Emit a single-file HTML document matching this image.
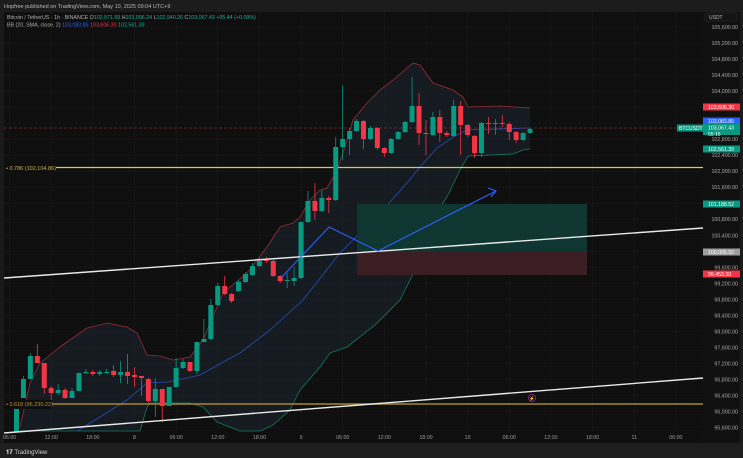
<!DOCTYPE html>
<html><head><meta charset="utf-8"><style>
html,body{margin:0;padding:0;background:#0f0f0f;width:743px;height:458px;overflow:hidden;font-family:"Liberation Sans",sans-serif}
svg{display:block}
</style></head><body>
<svg id="s" width="743" height="458" viewBox="0 0 743 458" xmlns="http://www.w3.org/2000/svg" font-family="Liberation Sans, sans-serif">
<rect width="743" height="458" fill="#0f0f0f"/>
<rect x="0" y="0" width="743" height="12" fill="#1c1c1c"/>
<rect x="0" y="12" width="4" height="431" fill="#1a1a1a"/>
<rect x="0" y="443" width="743" height="15" fill="#1e1e1e"/>
<rect x="703" y="12" width="40" height="431" fill="#111"/>
<rect x="740" y="12" width="3" height="431" fill="#1c1c1c"/>
<g id="grid"></g>
<g id="band"></g>
<!-- position box -->
<rect x="357" y="204" width="230" height="48" fill="#0f3630"/>
<rect x="357" y="252" width="230" height="23" fill="#3a1e24"/>
<!-- fib lines -->
<line x1="4" y1="167.5" x2="703" y2="167.5" stroke="#e8c24a" stroke-width="1.3"/>
<line x1="4" y1="404" x2="703" y2="404" stroke="#a8872c" stroke-width="1.6"/>
<line x1="4" y1="128" x2="703" y2="128" stroke="#8a2a2e" stroke-width="0.8" stroke-dasharray="3,2"/>
<g id="candles"></g>
<!-- trend lines -->
<line x1="4" y1="278" x2="703" y2="228" stroke="#e8e8e8" stroke-width="1.4"/>
<line x1="4" y1="433" x2="703" y2="378" stroke="#e8e8e8" stroke-width="1.4"/>
<!-- blue path -->
<polyline points="281,278 329,227 378,251 496,191" fill="none" stroke="#2962ff" stroke-width="1.1"/>
<polyline points="488,188 496,191 491,197" fill="none" stroke="#2962ff" stroke-width="1.1"/>
<rect x="4" y="163" width="52" height="9" fill="#0f0f0f"/>
<text x="6" y="170" font-size="5.5" fill="#d6b24a">• 0.786 (102,104.86)</text>
<rect x="4" y="400" width="48" height="9" fill="#0f0f0f"/>
<text x="6" y="406" font-size="5.5" fill="#b5953a">• 0.618 (96,230.22)</text>
<circle cx="532" cy="398" r="3.5" fill="none" stroke="#9c27b0" stroke-width="0.8"/>
<text x="532" y="400" font-size="4.5" fill="#9c27b0" text-anchor="middle">⚡</text>
<g id="axis"></g>
<!-- header -->
<text x="4" y="8" font-size="5.5" fill="#b8b8b8">Hopfree published on TradingView.com, May 10, 2025 09:04 UTC+9</text>
<text x="7" y="19" font-size="5.3" fill="#b0b0b0">Bitcoin / TetherUS · 1h · BINANCE  O<tspan fill="#22ab94">102,971.99</tspan> H<tspan fill="#22ab94">103,096.24</tspan> L<tspan fill="#22ab94">102,940.26</tspan> C<tspan fill="#22ab94">103,067.43</tspan> <tspan fill="#22ab94">+95.44 (+0.09%)</tspan></text>
<text x="7" y="26.5" font-size="5.3" fill="#b0b0b0">BB (20, SMA, close, 2) <tspan fill="#2962ff">103,083.85</tspan> <tspan fill="#f23645">103,606.30</tspan> <tspan fill="#22ab94">102,561.39</tspan></text>
<text x="6" y="454" font-size="6" fill="#cfcfcf" font-weight="bold">𝟏𝟕 <tspan font-weight="normal">TradingView</tspan></text>
</svg>
<script>
const NS="http://www.w3.org/2000/svg";
function el(t,a,p){const e=document.createElementNS(NS,t);for(const k in a)e.setAttribute(k,a[k]);document.getElementById(p).appendChild(e);return e;}
// grid
for(let i=0;i<=25;i++){const y=27+i*16.02;el('line',{x1:4,y1:y,x2:703,y2:y,stroke:'#181818','stroke-width':0.6},'grid');}
const tl=["06:00","12:00","18:00","8","06:00","12:00","18:00","9","06:00","12:00","18:00","10","06:00","12:00","18:00","11","06:00"];
tl.forEach((t,i)=>{const x=9.6+i*41.64;el('line',{x1:x,y1:12,x2:x,y2:431,stroke:'#181818','stroke-width':0.6},'grid');
 const tx=el('text',{x:x,y:439,'font-size':5.3,fill:'#9a9a9a','text-anchor':'middle'},'axis');tx.textContent=t;});
// price axis
for(let i=0;i<=25;i++){const p=105600-i*400,y=27+i*16.02;const tx=el('text',{x:738,y:y+2,'font-size':5.3,fill:'#a8a8a8','text-anchor':'end'},'axis');tx.textContent=p.toLocaleString('en-US')+'.00';}
el('rect',{x:705,y:13,width:32,height:8,fill:'#141414',stroke:'#2a2a2a','stroke-width':0.5,rx:1},'axis');
let u=el('text',{x:709,y:19,'font-size':5,fill:'#bbb'},'axis');u.textContent='USDT';
function tag(y,c,t,tc,h){el('rect',{x:703,y:y-3.5,width:37,height:h||7,fill:c},'axis');const x=el('text',{x:708,y:y+2,'font-size':5.2,fill:tc||'#fff'},'axis');x.textContent=t;}
tag(107,'#f23645','103,606.30');
tag(121,'#2962ff','103,083.85');
tag(127.5,'#089981','103,067.43','#fff',11);
let s2=el('text',{x:708,y:136,'font-size':5,fill:'#fff'},'axis');s2.textContent='55:16';
el('rect',{x:677,y:124.5,width:26,height:7,fill:'#089981'},'axis');
let bt=el('text',{x:679,y:130,'font-size':5,fill:'#fff'},'axis');bt.textContent='BTCUSDT';
tag(149,'#089981','102,561.39');
tag(204,'#089981','101,188.52');
tag(252,'#9e9e9e','100,005.92');
tag(274,'#f23645','99,453.30');
// bands
const up=[[20,427],[30,383],[40,363],[60,347],[87,328],[107,323],[127,327],[137,333],[147,355],[160,356],[173,360],[190,357],[203,340],[217,307],[223,293],[247,273],[267,247],[280,227],[293,223],[300,217],[310,200],[320,190],[327,188],[337,170],[343,153],[353,120],[367,103],[380,90],[393,80],[413,63],[420,65],[433,83],[453,90],[463,97],[468,107],[500,106],[530,108]];
const lo=[[20,431],[140,431],[147,407],[150,403],[173,403],[190,403],[203,407],[217,422],[240,431],[260,431],[273,425],[290,410],[300,390],[320,367],[330,353],[347,347],[375,325],[400,300],[420,260],[433,217],[447,197],[460,170],[468,156],[513,154],[523,150],[530,149]];
const mid=[[77,431],[100,417],[127,400],[147,383],[167,382],[187,378],[200,375],[227,360],[240,353],[270,330],[303,300],[340,253],[380,213],[407,183],[420,167],[437,148],[453,137],[467,130],[530,128]];
const ps=a=>a.map(p=>p.join(',')).join(' ');
el('polygon',{points:ps(up)+' '+ps(lo.slice().reverse()),fill:'#1b2630','fill-opacity':0.55},'band');
el('polyline',{points:ps(up),fill:'none',stroke:'#9b2a35','stroke-width':0.8},'band');
el('polyline',{points:ps(lo),fill:'none',stroke:'#137a60','stroke-width':0.8},'band');
el('polyline',{points:ps(mid),fill:'none',stroke:'#2a4db8','stroke-width':0.8},'band');
// candles O C H L (y px)
const C=[[432,403,402,432],[398,379,376,398],[379,356,353,379],[356,363,344,363],[363,388,363,394],[388,393,386,403],[393,390,384,395],[390,398,388,399],[398,391,388,398],[391,373,373,391],
[373,372,369,374],[372,374,370,376],[374,372,370,376],[373,372,369,374],[371,375,365,377],[375,372,361,383],[372,376,354,384],[375,377,367,387],[376,378,376,396],[379,401,378,403],
[401,389,378,417],[389,406,389,422],[406,387,387,406],[387,368,358,388],[368,362,359,369],[362,371,362,372],[371,342,342,374],[342,339,319,342],[339,305,299,340],[305,286,283,306],
[286,294,276,295],[294,301,293,303],[291,282,280,292],[282,274,272,283],[275,266,263,276],[266,261,258,267],[260,261,257,263],[261,276,260,277],[276,281,275,283],[281,280,273,288],
[281,278,267,286],[278,222,222,279],[222,201,191,223],[201,211,183,220],[211,198,190,212],[198,200,196,213],[200,147,137,201],[147,139,85,160],[139,131,128,155],[131,121,119,132],
[121,139,120,149],[139,128,126,140],[128,148,127,150],[148,153,147,157],[153,139,138,154],[139,132,131,140],[132,122,121,133],[122,106,77,123],[106,133,93,145],[133,134,120,155],
[135,117,112,136],[117,133,110,142],[133,135,131,137],[136,106,100,137],[106,125,101,155],[125,135,124,137],[136,153,135,158],[153,123,122,157],[123,124,117,134],[124,123,119,135],
[123,124,115,127],[124,132,122,140],[132,140,131,143],[140,133,132,141],[133,129,128,134]];
C.forEach((c,i)=>{const x=16.5+i*6.94;const g=c[1]<c[0];const col=g?'#089981':'#f23645';
 el('line',{x1:x,y1:c[2],x2:x,y2:c[3],stroke:col,'stroke-width':0.8},'candles');
 const t=Math.min(c[0],c[1]),h=Math.max(1,Math.abs(c[1]-c[0]));
 el('rect',{x:x-2.5,y:t,width:5,height:h,fill:col},'candles');});
</script>
</body></html>
